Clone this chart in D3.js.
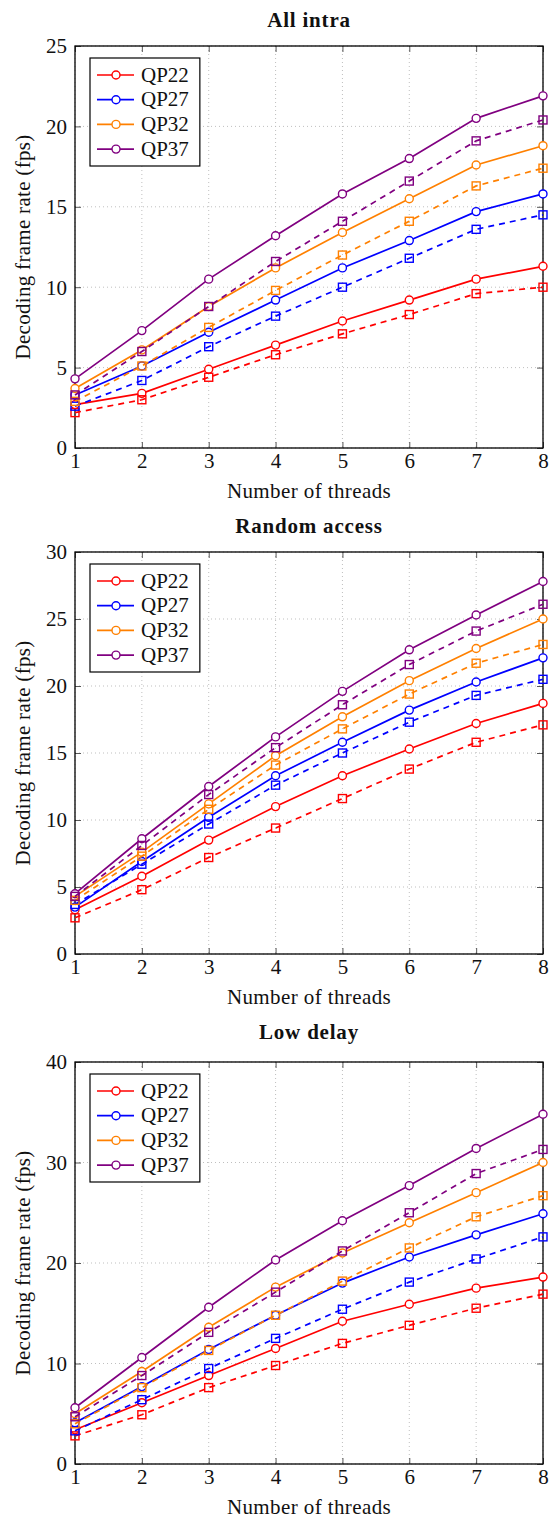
<!DOCTYPE html>
<html>
<head>
<meta charset="utf-8">
<script src="https://cdn.jsdelivr.net/npm/d3@7"></script>
<style>
  html, body { margin: 0; padding: 0; background: #fff; }
  svg { display: block; }
</style>
</head>
<body>
<script>
// ---------------- DATA ----------------
const threads = [1, 2, 3, 4, 5, 6, 7, 8];
const qpLabels = ["QP22", "QP27", "QP32", "QP37"];
const panelTitles = ["All intra", "Random access", "Low delay"];
const yMaxes = [25, 30, 40];
const yTickSteps = [5, 5, 10];
const xAxisLabel = "Number of threads";
const yAxisLabel = "Decoding frame rate (fps)";

// solid lines (circles), one row per QP
const allIntraSolid = [
  [2.7, 3.4, 4.9, 6.4, 7.9, 9.2, 10.5, 11.3],
  [3.3, 5.1, 7.2, 9.2, 11.2, 12.9, 14.7, 15.8],
  [3.7, 6.1, 8.8, 11.2, 13.4, 15.5, 17.6, 18.8],
  [4.3, 7.3, 10.5, 13.2, 15.8, 18.0, 20.5, 21.9]
];
// dashed lines (squares)
const allIntraDashed = [
  [2.2, 3.0, 4.4, 5.8, 7.1, 8.3, 9.6, 10.0],
  [2.6, 4.2, 6.3, 8.2, 10.0, 11.8, 13.6, 14.5],
  [2.9, 5.1, 7.5, 9.8, 12.0, 14.1, 16.3, 17.4],
  [3.3, 6.0, 8.8, 11.6, 14.1, 16.6, 19.1, 20.4]
];
const randomAccessSolid = [
  [3.3, 5.8, 8.5, 11.0, 13.3, 15.3, 17.2, 18.7],
  [3.5, 6.9, 10.2, 13.3, 15.8, 18.2, 20.3, 22.1],
  [4.3, 7.6, 11.2, 14.8, 17.7, 20.4, 22.8, 25.0],
  [4.5, 8.6, 12.5, 16.2, 19.6, 22.7, 25.3, 27.8]
];
const randomAccessDashed = [
  [2.7, 4.8, 7.2, 9.4, 11.6, 13.8, 15.8, 17.1],
  [3.7, 6.7, 9.7, 12.6, 15.0, 17.3, 19.3, 20.5],
  [4.0, 7.3, 10.8, 14.1, 16.8, 19.4, 21.7, 23.1],
  [4.3, 8.1, 11.9, 15.4, 18.6, 21.6, 24.1, 26.1]
];
const lowDelaySolid = [
  [3.4, 6.1, 8.8, 11.5, 14.2, 15.9, 17.5, 18.6],
  [4.1, 7.7, 11.4, 14.8, 18.0, 20.6, 22.8, 24.9],
  [5.0, 9.2, 13.6, 17.6, 21.0, 24.0, 27.0, 30.0],
  [5.6, 10.6, 15.6, 20.3, 24.2, 27.7, 31.4, 34.8]
];
const lowDelayDashed = [
  [2.8, 4.9, 7.6, 9.8, 12.0, 13.8, 15.5, 16.9],
  [3.3, 6.4, 9.5, 12.5, 15.4, 18.1, 20.4, 22.6],
  [4.0, 7.6, 11.3, 14.8, 18.2, 21.5, 24.6, 26.7],
  [4.7, 8.8, 13.1, 17.1, 21.2, 25.0, 28.9, 31.3]
];

const solidSets = [allIntraSolid, randomAccessSolid, lowDelaySolid];
const dashedSets = [allIntraDashed, randomAccessDashed, lowDelayDashed];

// ---------------- STYLE / LAYOUT ----------------
const colors = ["#ff0000", "#0000ff", "#ff8000", "#800080"];
const W = 555, H = 1520;
const plotLeft = 75, plotRight = 543, plotH = 402;
const panelTops = [46, 552, 1062];
const FONT = "'Liberation Serif', 'Times New Roman', serif";
const FS = 21;

const svg = d3.select("body").append("svg")
  .attr("width", W).attr("height", H)
  .attr("font-family", FONT);
svg.append("rect").attr("width", W).attr("height", H).attr("fill", "#fff");

const x = d3.scaleLinear().domain([1, 8]).range([plotLeft, plotRight]);

panelTitles.forEach((title, pi) => {
  const top = panelTops[pi];
  const bottom = top + plotH;
  const y = d3.scaleLinear().domain([0, yMaxes[pi]]).range([bottom, top]);
  const yTicks = d3.range(0, yMaxes[pi] + 1e-9, yTickSteps[pi]);
  const g = svg.append("g");

  // grid
  const grid = g.append("g").attr("stroke", "#b8b8b8").attr("stroke-width", 0.9)
    .attr("stroke-dasharray", "1,3");
  grid.selectAll("line.v").data(threads).join("line")
    .attr("x1", d => x(d)).attr("x2", d => x(d))
    .attr("y1", top).attr("y2", bottom);
  grid.selectAll("line.h").data(yTicks).join("line")
    .attr("x1", plotLeft).attr("x2", plotRight)
    .attr("y1", d => y(d)).attr("y2", d => y(d));

  // axes (inside ticks on all four sides)
  const styleAxis = sel => {
    sel.select(".domain").remove();
    sel.selectAll(".tick line").attr("stroke", "#444").attr("stroke-width", 0.9);
    sel.selectAll("text").attr("font-family", FONT).attr("font-size", FS).attr("fill", "#111");
    sel.attr("font-size", null).attr("font-family", null);
  };
  g.append("g").attr("transform", `translate(0,${bottom})`)
    .call(d3.axisBottom(x).tickValues(threads).tickFormat(d3.format("d"))
      .tickSizeInner(-6).tickSizeOuter(0).tickPadding(5.5))
    .call(styleAxis);
  g.append("g").attr("transform", `translate(0,${top})`)
    .call(d3.axisTop(x).tickValues(threads).tickFormat("")
      .tickSizeInner(-6).tickSizeOuter(0))
    .call(styleAxis);
  g.append("g").attr("transform", `translate(${plotLeft},0)`)
    .call(d3.axisLeft(y).tickValues(yTicks).tickFormat(d3.format("d"))
      .tickSizeInner(-6).tickSizeOuter(0).tickPadding(8))
    .call(styleAxis)
    .call(s => s.selectAll("text").attr("dy", "0.33em"));
  g.append("g").attr("transform", `translate(${plotRight},0)`)
    .call(d3.axisRight(y).tickValues(yTicks).tickFormat("")
      .tickSizeInner(-6).tickSizeOuter(0))
    .call(styleAxis);

  // border
  g.append("rect").attr("x", plotLeft).attr("y", top)
    .attr("width", plotRight - plotLeft).attr("height", plotH)
    .attr("fill", "none").attr("stroke", "#000").attr("stroke-width", 1.3);

  // series
  const line = d3.line().x((d, i) => x(threads[i])).y(d => y(d));
  const drawSeries = (vals, color, dashed) => {
    const sg = g.append("g");
    sg.append("path").datum(vals).attr("d", line)
      .attr("fill", "none").attr("stroke", color).attr("stroke-width", 1.7)
      .attr("stroke-dasharray", dashed ? "6,5" : null);
    if (dashed) {
      sg.selectAll("rect").data(vals).join("rect")
        .attr("x", (d, i) => x(threads[i]) - 4).attr("y", d => y(d) - 4)
        .attr("width", 8).attr("height", 8)
        .attr("fill", "none").attr("stroke", color).attr("stroke-width", 1.4);
    } else {
      sg.selectAll("circle").data(vals).join("circle")
        .attr("cx", (d, i) => x(threads[i])).attr("cy", d => y(d)).attr("r", 4)
        .attr("fill", "#fff").attr("stroke", color).attr("stroke-width", 1.4);
    }
  };
  solidSets[pi].forEach((vals, k) => drawSeries(vals, colors[k], false));
  dashedSets[pi].forEach((vals, k) => drawSeries(vals, colors[k], true));

  // legend
  const lx = plotLeft + 15, ly = top + 12;
  const lg = g.append("g");
  const box = lg.append("rect").attr("x", lx).attr("y", ly)
    .attr("height", 108).attr("fill", "#fff").attr("stroke", "#000").attr("stroke-width", 1.2);
  let maxEnd = 0;
  qpLabels.forEach((lab, k) => {
    const cy = ly + 17 + k * 24.7;
    lg.append("line").attr("x1", lx + 7).attr("x2", lx + 44)
      .attr("y1", cy).attr("y2", cy).attr("stroke", colors[k]).attr("stroke-width", 1.7);
    lg.append("circle").attr("cx", lx + 26).attr("cy", cy).attr("r", 4)
      .attr("fill", "#fff").attr("stroke", colors[k]).attr("stroke-width", 1.4);
    const t = lg.append("text").attr("x", lx + 51).attr("y", cy + 6.5)
      .attr("font-size", FS).attr("fill", "#111").text(lab);
    maxEnd = Math.max(maxEnd, lx + 51 + t.node().getComputedTextLength());
  });
  box.attr("width", maxEnd + 11 - lx);

  // title
  const hasDesc = /[gjpqy]/.test(title);
  g.append("text").attr("x", (plotLeft + plotRight) / 2)
    .attr("y", top - 19.5 - (hasDesc ? 4 : 0))
    .attr("text-anchor", "middle").attr("font-weight", "bold")
    .attr("font-size", FS).attr("letter-spacing", 0.8).attr("fill", "#111")
    .text(title);

  // axis labels
  g.append("text").attr("x", (plotLeft + plotRight) / 2).attr("y", bottom + 50)
    .attr("text-anchor", "middle").attr("font-size", FS).attr("letter-spacing", 0.4)
    .attr("fill", "#111").text(xAxisLabel);
  g.append("text")
    .attr("transform", `translate(30,${(top + bottom) / 2}) rotate(-90)`)
    .attr("text-anchor", "middle").attr("font-size", FS).attr("letter-spacing", 0.3)
    .attr("fill", "#111").text(yAxisLabel);
});
</script>
</body>
</html>
